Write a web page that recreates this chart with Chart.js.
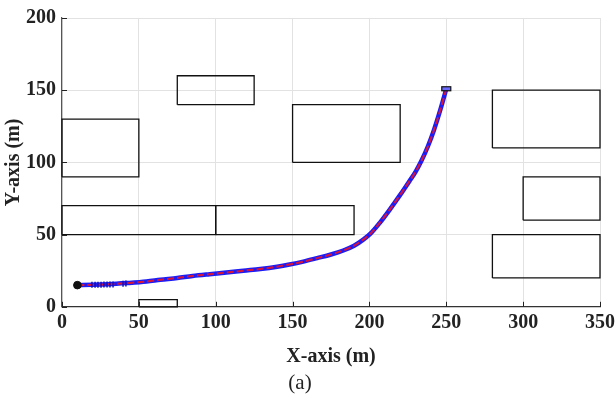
<!DOCTYPE html>
<html><head><meta charset="utf-8">
<script src="https://cdn.jsdelivr.net/npm/chart.js@4/dist/chart.umd.min.js"></script>
<style>html,body{margin:0;padding:0;background:#fff}</style>
</head><body>
<canvas id="c" width="615" height="403"></canvas>
<script>
// Path (m)
const pathX = [10, 20, 30, 42, 55, 64, 75, 85, 96, 107, 118, 129, 140, 148, 157, 166, 175, 183, 190, 196, 201, 207, 213, 220, 226, 230, 234, 238, 242, 246, 250];
const pathY = [15, 15.2, 15.6, 16.4, 17.5, 18.7, 20, 21.4, 22.6, 23.7, 25, 26.2, 27.8, 29.3, 31.3, 33.7, 36.2, 39, 42.3, 46.5, 51, 58.5, 67, 77.5, 87, 93.5, 101.5, 111, 122.5, 136, 151];
// Dense samples near the start
const sampleX = [19.5, 21.5, 23.4, 25.4, 27.3, 29.3, 31.2, 33.2, 39.7, 41.6];
const sampleY = [15.2, 15.2, 15.3, 15.3, 15.4, 15.4, 15.5, 15.5, 16.0, 16.2];
// Start / goal
const startPt = [10, 15];
const goalPt = [250, 151];
// Obstacles: [x0, y0, x1, y1]
const obstacles = [
  [0, 90, 50, 130],
  [75, 140, 125, 160],
  [150, 100, 220, 140],
  [280, 110, 350, 150],
  [300, 60, 350, 90],
  [280, 20, 350, 50],
  [0, 50, 100, 70],
  [100, 50, 190, 70],
  [50, 0, 75, 5]
];
const xTicks = [0, 50, 100, 150, 200, 250, 300, 350];
const yTicks = [0, 50, 100, 150, 200];

const FONT = "'Liberation Serif', 'Times New Roman', serif";
const pathPts = pathX.map((x, i) => ({x, y: pathY[i]}));

const datasets = [];
obstacles.forEach(o => {
  datasets.push({
    data: [{x:o[0],y:o[1]},{x:o[2],y:o[1]},{x:o[2],y:o[3]},{x:o[0],y:o[3]},{x:o[0],y:o[1]}],
    showLine: true, borderColor: '#111', borderWidth: 1.3, pointRadius: 0, tension: 0, clip: false, order: 5
  });
});
datasets.push({
  data: pathPts, showLine: true, borderColor: '#1c1cf5', borderWidth: 4.5,
  pointRadius: 0, cubicInterpolationMode: 'monotone', order: 3, clip: false
});
datasets.push({
  data: pathPts, showLine: true, borderColor: '#d8143a', borderWidth: 2,
  borderDash: [7, 3], pointRadius: 0, cubicInterpolationMode: 'monotone', order: 2, clip: false
});
datasets.push({
  data: sampleX.map((x, i) => ({x, y: sampleY[i]})), showLine: false,
  pointStyle: 'line', rotation: 90, pointRadius: 3, borderColor: '#1010c0', borderWidth: 1.5, order: 1
});
datasets.push({
  data: [{x: startPt[0], y: startPt[1]}], pointStyle: 'circle', pointRadius: 3.8,
  backgroundColor: '#111', borderColor: '#111', order: 0, clip: false
});

const tickPlugin = {
  id: 'inTicks',
  afterDatasetsDraw(chart) {
    const {ctx, scales: {x, y}, chartArea} = chart;
    ctx.save();
    ctx.strokeStyle = '#222';
    ctx.lineWidth = 1;
    xTicks.forEach(v => {
      const px = Math.round(x.getPixelForValue(v)) + 0.5;
      ctx.beginPath(); ctx.moveTo(px, chartArea.bottom); ctx.lineTo(px, chartArea.bottom - 5); ctx.stroke();
    });
    yTicks.forEach(v => {
      const py = Math.round(y.getPixelForValue(v)) + 0.5;
      ctx.beginPath(); ctx.moveTo(chartArea.left, py); ctx.lineTo(chartArea.left + 5, py); ctx.stroke();
    });
    // goal marker: small outlined rectangle
    const gx = x.getPixelForValue(goalPt[0]), gy = y.getPixelForValue(goalPt[1]);
    ctx.fillStyle = '#6a6aff';
    ctx.fillRect(gx - 4.5, gy - 2, 9, 4);
    ctx.strokeStyle = '#111';
    ctx.lineWidth = 1.2;
    ctx.strokeRect(gx - 4.5, gy - 2, 9, 4);
    ctx.restore();
  }
};

new Chart(document.getElementById('c'), {
  type: 'scatter',
  data: { datasets },
  plugins: [tickPlugin],
  options: {
    responsive: false,
    animation: false,
    layout: { padding: { top: 17, right: 15, left: 0, bottom: 0 } },
    plugins: {
      legend: { display: false },
      tooltip: { enabled: false },
      title: {
        display: true, position: 'bottom', text: '(a)', color: '#222',
        font: { family: FONT, size: 21, weight: 'normal' }, padding: { top: 2, bottom: 7 }
      }
    },
    scales: {
      x: {
        type: 'linear', min: 0, max: 350,
        afterBuildTicks: s => { s.ticks = xTicks.map(v => ({value: v})); },
        afterFit: s => { s.height = 62; s.paddingRight = 0; s.paddingLeft = 0; },
        ticks: { color: '#222', font: { family: FONT, size: 20, weight: 'bold' }, padding: 4, maxRotation: 0 },
        grid: { color: '#e2e2e2', lineWidth: 1, drawTicks: false },
        border: { display: true, color: '#333', width: 1.2 },
        title: { display: true, text: 'X-axis (m)', color: '#222', font: { family: FONT, size: 20, weight: 'bold' }, padding: { top: 0, bottom: 0 } }
      },
      y: {
        type: 'linear', min: 0, max: 200,
        afterBuildTicks: s => { s.ticks = yTicks.map(v => ({value: v})); },
        afterFit: s => { s.width = 62; },
        ticks: { color: '#222', font: { family: FONT, size: 20, weight: 'bold' }, padding: 6 },
        grid: { color: '#e2e2e2', lineWidth: 1, drawTicks: false },
        border: { display: true, color: '#555', width: 1.2 },
        title: { display: true, text: 'Y-axis (m)', color: '#222', font: { family: FONT, size: 20, weight: 'bold' }, padding: { top: 2, bottom: 0 } }
      }
    }
  }
});
</script>
</body></html>
